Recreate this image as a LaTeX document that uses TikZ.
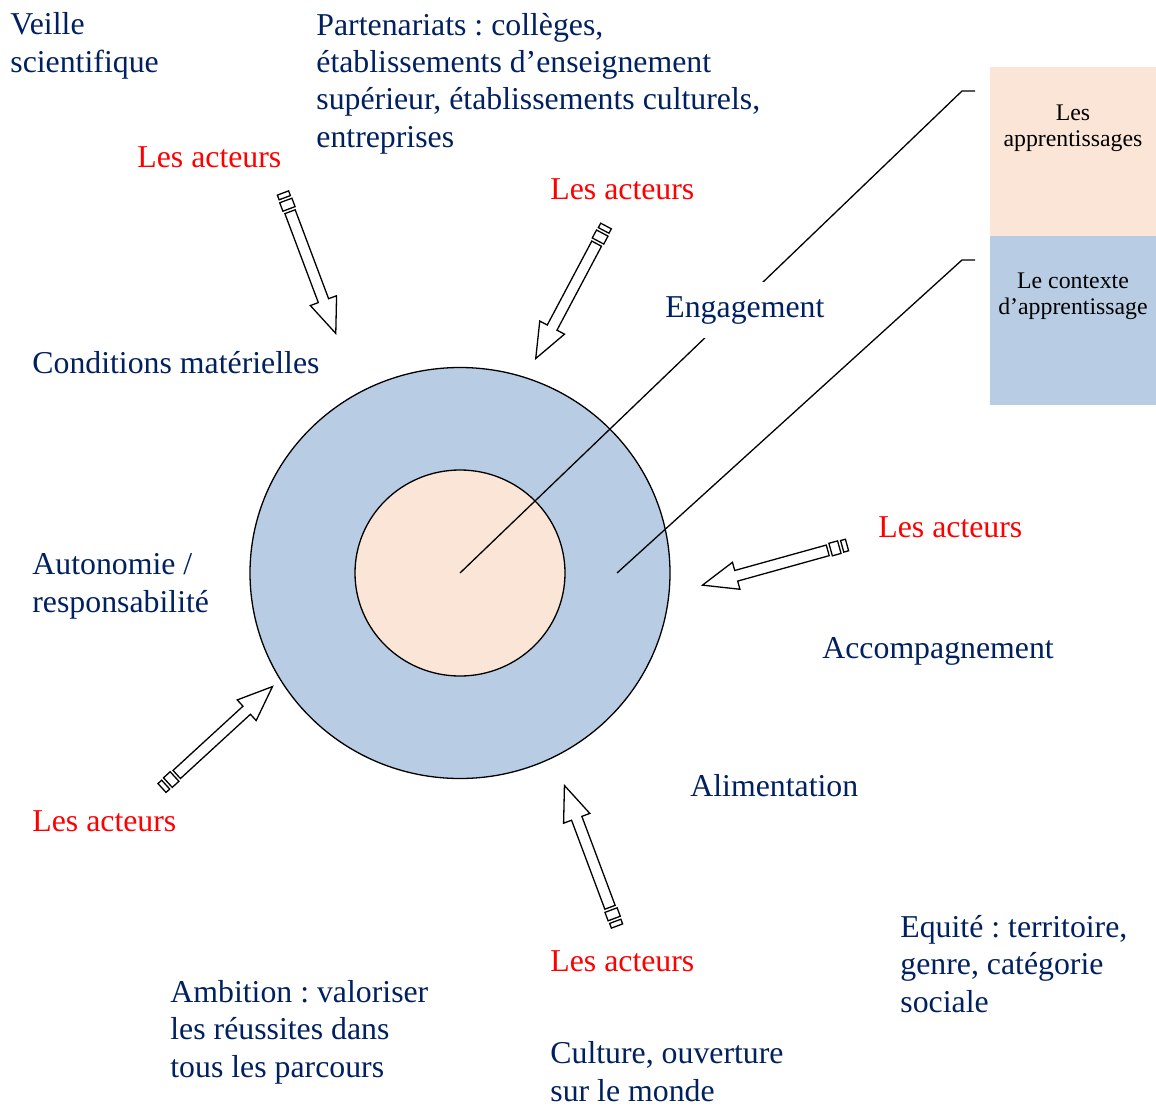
\documentclass[tikz,border=0pt]{standalone}
\usepackage{fontspec}
\setmainfont{Liberation Serif}
\usepackage{tikz}
\usetikzlibrary{calc,shapes.geometric}
\frenchspacing

\definecolor{navy}{HTML}{002060}
\definecolor{peche}{HTML}{FBE5D6}
\definecolor{bleuclair}{HTML}{B8CCE4}

\tikzset{
    texte/.style={anchor=base west,inner sep=0,align=left,text=navy,
        font=\fontsize{15.9}{18.6}\selectfont},
    acteurs/.style={texte,text=red},
    legende/.style={anchor=base,inner sep=0,align=center,
        font=\fontsize{11.9}{12.6}\selectfont},
    fleche/.style={draw=black,fill=white,line width=0.65pt,line join=miter},
    acteur/.pic={
        \draw[fleche] (20,-5.5) -- (115,-5.5) -- (115,-14) -- (150,0)
            -- (115,14) -- (115,5.5) -- (20,5.5) -- cycle;
        \draw[fleche] (8,-6.5) rectangle (17,6.5);
        \draw[fleche] (0,-6) rectangle (5,6);
    }
}

\begin{document}
\begin{tikzpicture}[x=0.5pt,y=-0.5pt]
    \useasboundingbox (0,0) rectangle (1156,1108);

    % les deux cercles
    \node (ctx) [ellipse,draw=black,line width=0.65pt,fill=bleuclair,inner sep=0,
        minimum width=210pt,minimum height=205.5pt] at (460,573) {};
    \node (app) [ellipse,draw=black,line width=0.65pt,fill=peche,inner sep=0,
        minimum width=105pt,minimum height=103pt] at (460,573) {};

    % legende
    \node (boxA) [fill=peche,inner sep=0,anchor=north west,
        minimum width=83pt,minimum height=84.5pt] at (990,67) {};
    \node (boxB) [fill=bleuclair,inner sep=0,anchor=north west,
        minimum width=83pt,minimum height=84.5pt] at (990,236) {};
    \node (legA) [legende] at (1073,146) {Les\\apprentissages};
    \node (legB) [legende] at (1073,314) {Le contexte\\d’apprentissage};

    \coordinate (ring) at (617,573);
    \coordinate (kA) at (962,91);
    \coordinate (kAe) at (975,91);
    \coordinate (kB) at (962,260);
    \coordinate (kBe) at (975,260);

    \draw[line width=0.65pt]
        (app.center) -- (kA) -- (kAe)
        (ring) -- (kB) -- (kBe);

    % textes (base = derniere ligne)
    \node (veille) [texte] at (10,72) {Veille\\scientifique};
    \node (parten) [texte] at (316,147) {Partenariats : collèges,\\établissements d’enseignement\\supérieur, établissements culturels,\\entreprises};
    \node (engag) [texte,fill=white,inner xsep=3pt,inner ysep=7pt] at (659,317) {Engagement};
    \node (condi) [texte] at (32,373) {Conditions matérielles};
    \node (auton) [texte] at (32,612) {Autonomie /\\responsabilité};
    \node (accomp) [texte] at (822,658) {Accompagnement};
    \node (alim) [texte] at (690,796) {Alimentation};
    \node (equite) [texte] at (900,1012) {Equité : territoire,\\genre, catégorie\\sociale};
    \node (ambit) [texte] at (170,1077) {Ambition : valoriser\\les réussites dans\\tous les parcours};
    \node (cultu) [texte] at (550,1101) {Culture, ouverture\\sur le monde};

    \node (act1) [acteurs] at (137,167) {Les acteurs};
    \node (act2) [acteurs] at (550,199) {Les acteurs};
    \node (act3) [acteurs] at (878,537) {Les acteurs};
    \node (act4) [acteurs] at (32,831) {Les acteurs};
    \node (act5) [acteurs] at (550,971) {Les acteurs};

    % les fleches des acteurs
    \coordinate (q1) at (283,193);  \coordinate (r1) at (336,334);
    \coordinate (q2) at (606,226);  \coordinate (r2) at (536,358);
    \coordinate (q3) at (847,545);  \coordinate (r3) at (703,585);
    \coordinate (q4) at (162,788);  \coordinate (r4) at (272,687);
    \coordinate (q5) at (617,926);  \coordinate (r5) at (565,787);

    \foreach \depart/\arrivee in {q1/r1,q2/r2,q3/r3,q4/r4,q5/r5}
        \path let \p1=($(\arrivee)-(\depart)$), \n1={atan2(\y1,\x1)} in
            (\depart) pic[rotate=\n1] {acteur};
\end{tikzpicture}
\end{document}
